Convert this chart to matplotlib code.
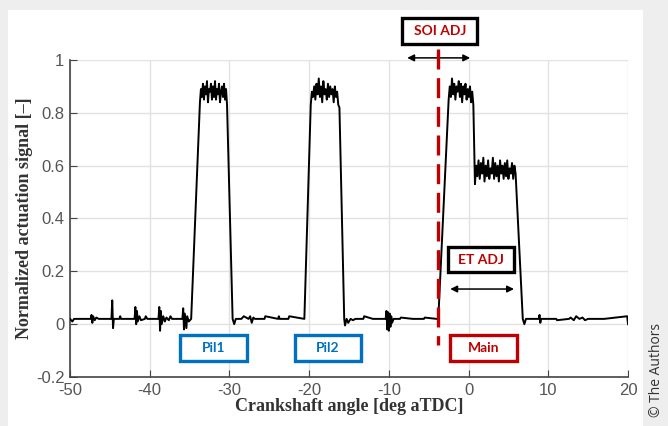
import numpy as np
import matplotlib.pyplot as plt
from matplotlib.patches import Rectangle

# baseline / edge points of the trace (crank angle, signal)
base1_x = [-50, -49.7, -49.5, -47.4, -47.3, -47.2, -47.1, -46.9, -46.7, -46.4, -44.8, -44.7, -44.6, -44.5,
           -43.8, -43.7, -43.6, -41.9, -41.8, -41.7, -41.6, -41.5, -41.3, -41.1, -40.6, -40.5, -40.3,
           -38.9, -38.8, -38.7, -38.6, -38.5, -38.3, -38.1, -37.9, -37.6, -37.4, -37.2, -35.9, -35.8,
           -35.7, -35.6, -35.4, -35.3, -35.1, -34.8]
base1_y = [0.02, 0.01, 0.02, 0.02, 0.035, 0.005, 0.03, 0.015, 0.025, 0.02, 0.02, 0.09, -0.015, 0.02,
           0.02, 0.03, 0.02, 0.02, 0.065, 0.0, 0.05, 0.01, 0.03, 0.015, 0.02, 0.03, 0.02,
           0.02, 0.065, -0.025, 0.05, 0.0, 0.03, 0.01, 0.025, 0.015, 0.03, 0.02, 0.02, 0.06,
           -0.02, 0.04, -0.015, 0.03, 0.01, 0.02]
pil1_top = [0.84, 0.89, 0.86, 0.91, 0.85, 0.90, 0.87, 0.92, 0.84, 0.89, 0.88, 0.91, 0.85, 0.90,
            0.86, 0.92, 0.85, 0.89, 0.87, 0.91, 0.84, 0.88, 0.90, 0.86, 0.91, 0.85, 0.89, 0.83]
base2_x = [-29.6, -29.4, -29.2, -28.5, -28.2, -27.6, -27.4, -27.2, -27.0, -26.8, -25.6, -25.5,
           -23.9, -23.8, -23.7, -22.6, -22.5, -20.6]
base2_y = [0.02, 0.0, 0.02, 0.02, 0.03, 0.02, 0.03, 0.005, 0.025, 0.02, 0.02, 0.03,
           0.02, 0.03, 0.02, 0.02, 0.03, 0.02]
pil2_top = [0.83, 0.88, 0.86, 0.90, 0.85, 0.91, 0.87, 0.93, 0.86, 0.90, 0.84, 0.92, 0.87, 0.89,
            0.85, 0.91, 0.86, 0.90, 0.87, 0.89, 0.84, 0.90, 0.86, 0.88, 0.83, 0.82]
base3_x = [-15.6, -15.5, -15.3, -15.1, -14.8, -14.5, -14.2, -13.2, -13.1, -12.0, -10.4, -10.3,
           -10.2, -10.1, -10.0, -9.9, -9.8, -9.7, -9.6, -9.4, -8.6, -8.5, -7.0, -5.6, -5.5, -4.0]
base3_y = [0.02, -0.005, 0.02, 0.005, 0.02, 0.015, 0.02, 0.02, 0.03, 0.02, 0.02, 0.05,
           -0.02, 0.045, -0.025, 0.04, -0.01, 0.03, 0.005, 0.02, 0.02, 0.025, 0.02, 0.02, 0.025, 0.02]
main_top = [0.85, 0.90, 0.86, 0.93, 0.87, 0.91, 0.85, 0.90, 0.88, 0.92, 0.86, 0.91, 0.84, 0.90,
            0.87, 0.91, 0.85, 0.89, 0.86, 0.90, 0.84, 0.88, 0.83]
main_tail = [0.53, 0.60, 0.56, 0.62, 0.55, 0.61, 0.57, 0.63, 0.54, 0.60, 0.56, 0.62, 0.55, 0.59,
             0.57, 0.63, 0.55, 0.61, 0.56, 0.60, 0.54, 0.62, 0.57, 0.60, 0.55, 0.61, 0.56, 0.62,
             0.55, 0.59, 0.57, 0.61, 0.55, 0.60, 0.57]
base4_x = [6.8, 7.0, 7.2, 8.8, 8.9, 9.0, 9.1, 11.0, 11.1, 12.6, 12.8, 13.2, 13.5, 13.9, 14.3,
           14.6, 15.0, 17.0, 19.9, 20.0]
base4_y = [0.02, 0.0, 0.02, 0.02, 0.035, 0.005, 0.02, 0.02, 0.015, 0.02, 0.025, 0.015, 0.03,
           0.02, 0.025, 0.015, 0.02, 0.02, 0.03, 0.0]

x = np.concatenate([base1_x, np.linspace(-33.7, -30.3, len(pil1_top)), base2_x,
                    np.linspace(-19.8, -16.2, len(pil2_top)), base3_x, [-3.8],
                    np.linspace(-2.5, 0.6, len(main_top)), np.linspace(0.8, 5.9, len(main_tail)),
                    base4_x])
y = np.concatenate([base1_y, pil1_top, base2_y, pil2_top, base3_y, [0.02], main_top, main_tail,
                    base4_y])

soi_x = -3.8
red = '#c00000'
blue = '#0070c0'
box_font = ['Lato', 'DejaVu Sans']

fig = plt.figure(figsize=(6.68, 4.26), dpi=100, facecolor='#eeeeee')
fig.patches.append(Rectangle((8 / 668, 0), 635 / 668, 416 / 426, transform=fig.transFigure,
                             facecolor='white', edgecolor='none', zorder=-10))
ax = fig.add_axes([70 / 668, 49 / 426, 558 / 668, 317 / 426])
ax.set_facecolor('none')

ax.plot(x, y, color='black', linewidth=1.4, zorder=3)
ax.plot([soi_x, soi_x], [1.04, -0.08], color=red, linewidth=2.4, linestyle=(0, (6, 2.6)),
        clip_on=False, zorder=4)

ax.set_xlim(-50, 20)
ax.set_ylim(-0.2, 1)
ax.set_xticks(range(-50, 21, 10))
ax.set_yticks([-0.2, 0, 0.2, 0.4, 0.6, 0.8, 1])
ax.set_yticklabels(['-0.2', '0', '0.2', '0.4', '0.6', '0.8', '1'])
ax.set_xticklabels([str(v) for v in range(-50, 21, 10)])
ax.grid(True, color='#e2e2e2', linewidth=1)
ax.set_axisbelow(True)
for s in ['top', 'right']:
    ax.spines[s].set_visible(False)
for s in ['left', 'bottom']:
    ax.spines[s].set_color('#444444')
    ax.spines[s].set_linewidth(1.2)
ax.tick_params(direction='in', length=5, colors='#444444', labelcolor='#555555',
               labelsize=12, pad=4)
for lab in ax.get_xticklabels() + ax.get_yticklabels():
    lab.set_family('Liberation Sans')

ax.set_xlabel('Crankshaft angle [deg aTDC]', family='Liberation Serif', fontweight='bold',
              fontsize=13, color='#333333', labelpad=0)
ax.set_ylabel('Normalized actuation signal [\u2013]', family='Liberation Serif', fontweight='bold',
              fontsize=13, color='#333333', labelpad=2)

# annotation boxes: (x0, x1, y0, y1) in data units
def label_box(x0, x1, y0, y1, text, textcolor, edge):
    ax.add_patch(Rectangle((x0, y0), x1 - x0, y1 - y0, facecolor='white', edgecolor=edge,
                           linewidth=2.4, clip_on=False, zorder=5))
    ax.text((x0 + x1) / 2, (y0 + y1) / 2, text, color=textcolor, fontsize=10, fontweight='bold',
            family=box_font, ha='center', va='center', clip_on=False, zorder=6)

label_box(-36.2, -27.8, -0.140, -0.042, 'Pil1', blue, blue)
label_box(-21.8, -13.5, -0.140, -0.042, 'Pil2', blue, blue)
label_box(-2.3, 6.1, -0.140, -0.042, 'Main', red, red)
label_box(-2.6, 5.7, 0.197, 0.292, 'ET ADJ', red, 'black')
label_box(-8.3, 1.1, 1.061, 1.159, 'SOI ADJ', red, 'black')

arrow = dict(arrowstyle='<|-|>', color='black', linewidth=1.1, mutation_scale=10,
             shrinkA=0, shrinkB=0)
ax.annotate('', xy=(-7.7, 1.008), xytext=(0.2, 1.008), arrowprops=arrow, annotation_clip=False)
ax.annotate('', xy=(-2.3, 0.133), xytext=(5.7, 0.133), arrowprops=arrow, annotation_clip=False)

fig.text(656 / 668, 0.02, '\u00a9 The Authors', rotation=90, fontsize=10,
         color='#333333', family='Open Sans', ha='center', va='bottom')

fig.savefig('out.png', dpi=100, facecolor=fig.get_facecolor())
